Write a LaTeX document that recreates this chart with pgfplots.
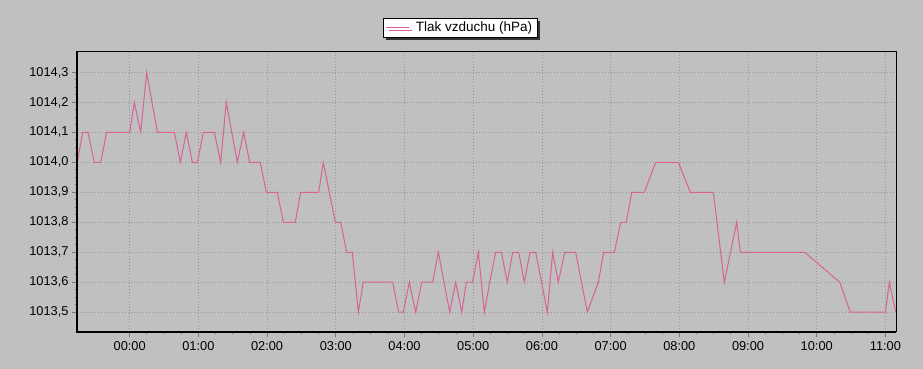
\documentclass[border=0pt]{standalone}
\usepackage{pgfplots}
\pgfplotsset{compat=1.18}
\usepackage{fontspec}
\setmainfont{Liberation Sans}
\usetikzlibrary{shadows}
\definecolor{bg}{RGB}{192,192,192}
\definecolor{linepink}{RGB}{216,98,152}
\definecolor{gridgray}{RGB}{150,150,150}
\definecolor{tickgray}{RGB}{120,120,120}
\begin{document}
\begin{tikzpicture}[x=1pt,y=1pt]
\fill[bg] (0,0) rectangle (923,369);
\begin{axis}[
  name=ax,
  at={(77pt,37pt)}, anchor=south west,
  scale only axis, width=819pt, height=280pt,
  xmin=-0.767, xmax=11.154,
  ymin=1013.434, ymax=1014.368,
  xtick={0,1,2,3,4,5,6,7,8,9,10,11},
  xticklabels={00:00,01:00,02:00,03:00,04:00,05:00,06:00,07:00,08:00,09:00,10:00,11:00},
  ytick={1013.5,1013.6,1013.7,1013.8,1013.9,1014.0,1014.1,1014.2,1014.3},
  yticklabels={{1013,5},{1013,6},{1013,7},{1013,8},{1013,9},{1014,0},{1014,1},{1014,2},{1014,3}},
  minor x tick num=3, minor y tick num=3,
  tick align=outside,
  major tick length=5pt, minor tick length=2.5pt,
  every tick/.style={tickgray, line width=0.8pt},
  xtick pos=bottom, ytick pos=left,
  grid=major,
  major grid style={gridgray, line width=0.8pt, dash pattern=on 1pt off 2pt},
  axis line style={black, line width=1pt},
  tick label style={font=\fontsize{12.8}{14}\selectfont, text=black},
  xticklabel style={yshift=-1pt},
  legend style={at={(0.4676,1.088)}, anchor=center, draw=black, fill=white,
    font=\fontsize{13.5}{15}\selectfont, inner xsep=3pt, inner ysep=2pt,
    /tikz/every odd column/.append style={column sep=4pt},
    drop shadow={shadow xshift=3pt, shadow yshift=-3pt, fill=black!80, opacity=1}},
  legend image code/.code={\draw[#1] (0pt,0pt) -- (23pt,0pt);},
]
\addplot[linepink, line width=1pt] table {
x y
-0.763 1014.0
-0.684 1014.1
-0.607 1014.1
-0.515 1014.0
-0.422 1014.0
-0.335 1014.1
0.000 1014.1
0.068 1014.2
0.160 1014.1
0.247 1014.3
0.403 1014.1
0.650 1014.1
0.737 1014.0
0.824 1014.1
0.912 1014.0
0.985 1014.0
1.072 1014.1
1.232 1014.1
1.324 1014.0
1.406 1014.2
1.566 1014.0
1.659 1014.1
1.747 1014.0
1.901 1014.0
1.988 1013.9
2.149 1013.9
2.236 1013.8
2.410 1013.8
2.489 1013.9
2.751 1013.9
2.818 1014.0
2.993 1013.8
3.071 1013.8
3.159 1013.7
3.240 1013.7
3.328 1013.5
3.400 1013.6
3.828 1013.6
3.915 1013.5
3.983 1013.5
4.070 1013.6
4.163 1013.5
4.250 1013.6
4.410 1013.6
4.492 1013.7
4.658 1013.5
4.745 1013.6
4.833 1013.5
4.900 1013.6
4.990 1013.6
5.075 1013.7
5.162 1013.5
5.240 1013.6
5.327 1013.7
5.409 1013.7
5.496 1013.6
5.575 1013.7
5.662 1013.7
5.744 1013.6
5.827 1013.7
5.910 1013.7
6.079 1013.5
6.157 1013.7
6.239 1013.6
6.332 1013.7
6.492 1013.7
6.661 1013.5
6.821 1013.6
6.899 1013.7
7.054 1013.7
7.147 1013.8
7.229 1013.8
7.307 1013.9
7.491 1013.9
7.656 1014.0
7.985 1014.0
8.160 1013.9
8.495 1013.9
8.655 1013.6
8.835 1013.8
8.888 1013.7
9.825 1013.7
10.335 1013.6
10.489 1013.5
10.999 1013.5
11.057 1013.6
11.150 1013.5
};
\addlegendentry{Tlak vzduchu (hPa)}
\end{axis}
\draw[black, line width=2pt] (ax.north west) -- (ax.south west) -- (ax.south east);
\end{tikzpicture}
\end{document}
